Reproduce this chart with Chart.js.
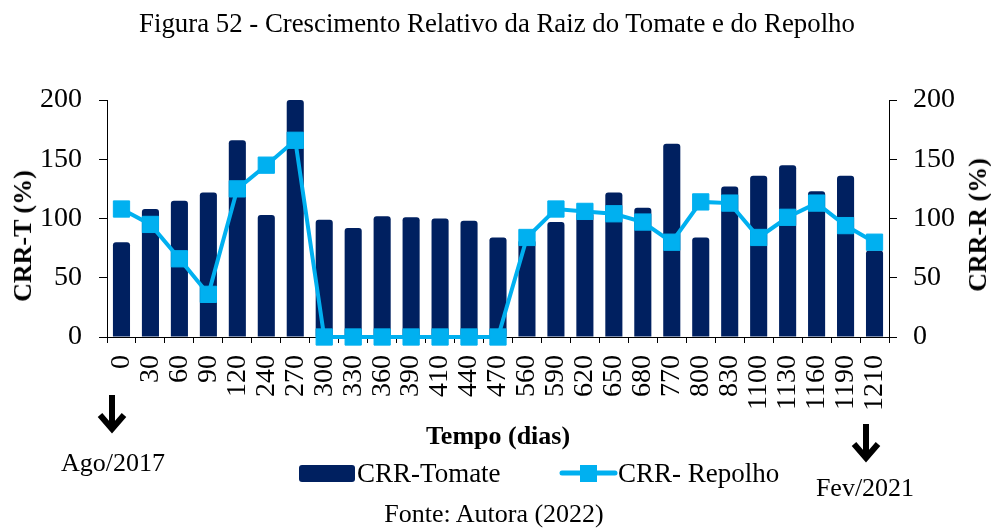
<!DOCTYPE html>
<html lang="pt">
<head>
<meta charset="utf-8">
<title>Crescimento Relativo da Raiz do Tomate e do Repolho</title>
<script src="https://cdn.jsdelivr.net/npm/chart.js@4/dist/chart.umd.min.js"></script>
<style>
  html, body { margin: 0; padding: 0; background: #fff; }
  #wrap { position: relative; width: 991px; height: 528px; overflow: hidden; }
  #chart { position: absolute; left: 0; top: 0; }
  .txt { position: absolute; white-space: nowrap; font-family: 'Liberation Serif', 'Times New Roman', serif;
         font-size: 26px; line-height: 26px; color: #000; }
  .center { transform: translateX(-50%); }
  .bold { font-weight: bold; }
  .vert { transform: translate(-50%, -50%) rotate(-90deg); }
  svg { position: absolute; left: 0; top: 0; }
</style>
</head>
<body>
<div id="wrap">
  <canvas id="chart" width="991" height="528"></canvas>

  <div class="txt center" style="left:497px; top:10px; font-size:26.8px;">Figura 52 - Crescimento Relativo da Raiz do Tomate e do Repolho</div>

  <div class="txt bold vert" style="left:23px; top:236px;">CRR-T (%)</div>
  <div class="txt bold vert" style="left:978px; top:225px;">CRR-R (%)</div>

  <div class="txt bold center" style="left:498px; top:423px;">Tempo (dias)</div>
  <div class="txt center" style="left:113px; top:450px;">Ago/2017</div>
  <div class="txt center" style="left:865px; top:475px;">Fev/2021</div>
  <div class="txt center" style="left:494px; top:501px;">Fonte: Autora (2022)</div>

  <!-- legend -->
  <div style="position:absolute; left:299px; top:465px; width:56px; height:17px; background:#002060; border-radius:3px;"></div>
  <div class="txt" style="left:357px; top:460px; font-size:27px;">CRR-Tomate</div>
  <svg width="991" height="528">
    <line x1="562" y1="473" x2="615" y2="473" stroke="#00B0F0" stroke-width="5" stroke-linecap="round"/>
    <rect x="580" y="465" width="17" height="17" fill="#00B0F0"/>
    <!-- time markers -->
    <g fill="none" stroke="#000" stroke-width="6" stroke-linejoin="miter">
      <line x1="112" y1="395" x2="112" y2="428"/>
      <polyline points="100,415 112,429 124,415"/>
      <line x1="866" y1="424" x2="866" y2="457"/>
      <polyline points="854,444 866,458 878,444"/>
    </g>
  </svg>
  <div class="txt" style="left:618px; top:460px; font-size:27px;">CRR- Repolho</div>
</div>

<script>
// Days since the start of the experiment
const categories = ['0', '30', '60', '90', '120', '240', '270', '300', '330', '360', '390', '410', '440', '470',
                    '560', '590', '620', '650', '680', '770', '800', '830', '1100', '1130', '1160', '1190', '1210'];

// Relative root growth, tomato (%)
const crrTomate = [80, 108, 115, 122, 166, 103, 200, 99, 92, 102, 101, 100, 98, 84,
                   82, 97, 105, 122, 109, 163, 84, 127, 136, 145, 123, 136, 73];

// Relative root growth, cabbage (%)
const crrRepolho = [108, 95, 66, 36, 125, 145, 166, 0, 0, 0, 0, 0, 0, 0,
                    84, 108, 106, 104, 97, 80, 114, 113, 84, 101, 113, 94, 80];

// Shared value-axis ticks
const yTicks = [0, 50, 100, 150, 200];

const FONT = "'Liberation Serif', 'Times New Roman', serif";
const NAVY = '#002060';
const CYAN = '#00B0F0';

const W = 991, H = 528;
const AREA = { left: 107, right: 889, top: 100, bottom: 337 };

function valueAxis(position, pad, width) {
  return {
    type: 'linear',
    position: position,
    min: yTicks[0],
    max: yTicks[yTicks.length - 1],
    afterBuildTicks: s => { s.ticks = yTicks.map(v => ({ value: v })); },
    afterFit: s => { s.width = width; },
    grid: { display: true, drawOnChartArea: false, drawTicks: true, tickLength: 8, color: '#000', lineWidth: 1 },
    border: { display: true, color: '#000', width: 1 },
    ticks: { color: '#000', padding: pad, font: { family: FONT, size: 28 } }
  };
}

new Chart(document.getElementById('chart'), {
  data: {
    labels: categories,
    datasets: [
      {
        type: 'line',
        label: 'CRR- Repolho',
        data: crrRepolho,
        yAxisID: 'y1',
        order: 0,
        borderColor: CYAN,
        backgroundColor: CYAN,
        borderWidth: 4,
        tension: 0,
        pointStyle: 'rect',
        pointRadius: 11.5,
        pointBorderWidth: 1,
        pointBackgroundColor: CYAN,
        pointBorderColor: CYAN,
        clip: false
      },
      {
        type: 'bar',
        label: 'CRR-Tomate',
        data: crrTomate,
        yAxisID: 'y',
        order: 1,
        backgroundColor: NAVY,
        borderWidth: 0,
        borderRadius: { topLeft: 3, topRight: 3, bottomLeft: 0, bottomRight: 0 },
        borderSkipped: 'bottom',
        barPercentage: 0.59,
        categoryPercentage: 1.0
      }
    ]
  },
  options: {
    responsive: false,
    devicePixelRatio: 1,
    animation: false,
    events: [],
    layout: { padding: { top: AREA.top, left: 0, right: 0, bottom: 0 } },
    plugins: { legend: { display: false }, title: { display: false }, tooltip: { enabled: false } },
    scales: {
      x: {
        type: 'category',
        offset: true,
        afterFit: s => { s.height = H - AREA.bottom; },
        grid: { display: true, offset: true, drawOnChartArea: false, drawTicks: true, tickLength: 6, color: '#000', lineWidth: 1 },
        border: { display: true, color: '#000', width: 1 },
        ticks: { color: '#000', autoSkip: false, maxRotation: 90, minRotation: 90, padding: 12,
                 font: { family: FONT, size: 28 } }
      },
      y: valueAxis('left', 17, AREA.left),
      y1: valueAxis('right', 16, W - AREA.right)
    }
  }
});
</script>
</body>
</html>
